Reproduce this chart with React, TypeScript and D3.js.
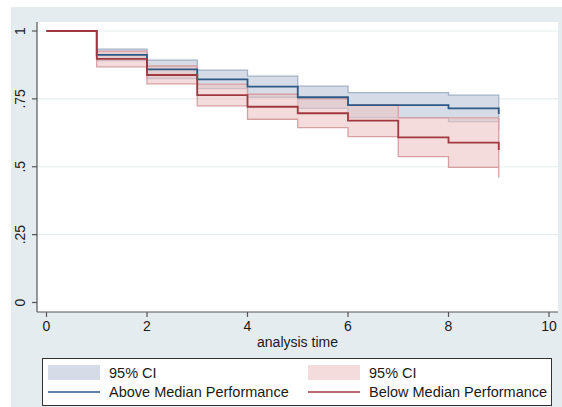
import React from "react";
import * as d3 from "d3";

const W = 562;
const H = 407;

const times = [0, 1, 2, 3, 4, 5, 6, 7, 8, 9];
const aboveSurv = [1, 0.912, 0.859, 0.822, 0.795, 0.756, 0.727, 0.727, 0.715, 0.694];
const aboveLo = [null, 0.891, 0.825, 0.788, 0.756, 0.715, 0.681, 0.681, 0.666, 0.633];
const aboveHi = [null, 0.933, 0.893, 0.856, 0.834, 0.797, 0.773, 0.773, 0.764, 0.75];
const belowSurv = [1, 0.897, 0.838, 0.764, 0.721, 0.697, 0.67, 0.608, 0.589, 0.562];
const belowLo = [null, 0.868, 0.805, 0.724, 0.675, 0.644, 0.611, 0.537, 0.498, 0.46];
const belowHi = [null, 0.926, 0.871, 0.804, 0.767, 0.75, 0.729, 0.68, 0.68, 0.66];

const xTicks = [0, 2, 4, 6, 8, 10];
const yTicks = [0, 0.25, 0.5, 0.75, 1];
const yTickLabels = ["0", ".25", ".5", ".75", "1"];
const gridValues = [0.25, 0.5, 0.75, 1];
const legendItems = [
  { label: "95% CI", kind: "band", series: "above" },
  { label: "95% CI", kind: "band", series: "below" },
  { label: "Above Median Performance", kind: "line", series: "above" },
  { label: "Below Median Performance", kind: "line", series: "below" },
];

const FONT = "'Liberation Sans', Arial, Helvetica, sans-serif";

export default function App() {
  const plot = { left: 37, right: 558, top: 22, bottom: 312 };
  const x = d3.scaleLinear().domain([0, 10]).range([46.5, 549]);
  const y = d3.scaleLinear().domain([0, 1]).range([302.5, 31]);

  const mkLine = (vals: number[]) =>
    d3
      .line<number>()
      .x((_, i) => x(times[i]))
      .y((d) => y(d))
      .curve(d3.curveStepAfter)(vals) as string;

  const mkBand = (lo: (number | null)[], hi: (number | null)[]) => {
    const idx = times.map((_, i) => i).filter((i) => lo[i] != null);
    return d3
      .area<number>()
      .x((i) => x(times[i]))
      .y0((i) => y(lo[i] as number))
      .y1((i) => y(hi[i] as number))
      .curve(d3.curveStepAfter)(idx) as string;
  };

  const colors = {
    above: { line: "#2c5986", band: "#d5dce7", bandStroke: "#a4b3c7", bandOpacity: 1 },
    below: { line: "#a0383f", band: "rgb(237,197,197)", bandStroke: "#d6a0a3", bandOpacity: 0.6 },
  };

  const legend = { left: 42.5, right: 551.5, top: 358.5, bottom: 405.5 };
  const col = [48, 308];
  const rowY = [372.5, 392];

  return (
    <svg
      width={W}
      height={H}
      style={{ position: "absolute", left: 0, top: 0, background: "#fff" }}
      fontFamily={FONT}
    >
      <rect x={11} y={7} width={W - 11} height={H - 7} fill="#e5ecf0" />
      <rect
        x={plot.left}
        y={plot.top}
        width={plot.right - plot.left}
        height={plot.bottom - plot.top}
        fill="#ffffff"
      />
      {gridValues.map((v) => (
        <line
          key={v}
          x1={plot.left}
          x2={plot.right}
          y1={y(v)}
          y2={y(v)}
          stroke="#e6edf0"
          strokeWidth={1.2}
        />
      ))}

      <path
        d={mkBand(aboveLo, aboveHi)}
        fill={colors.above.band}
        stroke={colors.above.bandStroke}
        strokeWidth={1.3}
      />
      <path
        d={mkBand(belowLo, belowHi)}
        fill={colors.below.band}
        fillOpacity={colors.below.bandOpacity}
        stroke={colors.below.bandStroke}
        strokeWidth={1.3}
      />
      <path d={mkLine(aboveSurv)} fill="none" stroke={colors.above.line} strokeWidth={1.8} />
      <path d={mkLine(belowSurv)} fill="none" stroke={colors.below.line} strokeWidth={1.8} />

      <line x1={plot.left} x2={plot.left} y1={plot.top} y2={plot.bottom} stroke="#555" strokeWidth={1.2} />
      <line x1={plot.left} x2={plot.right} y1={plot.bottom} y2={plot.bottom} stroke="#555" strokeWidth={1.2} />

      {yTicks.map((v, i) => (
        <g key={v}>
          <line x1={32} x2={plot.left} y1={y(v)} y2={y(v)} stroke="#555" strokeWidth={1.2} />
          <text
            transform={`translate(25,${y(v)}) rotate(-90)`}
            textAnchor="middle"
            fontSize={14}
            fill="#1a1a1a"
          >
            {yTickLabels[i]}
          </text>
        </g>
      ))}
      {xTicks.map((t) => (
        <g key={t}>
          <line x1={x(t)} x2={x(t)} y1={plot.bottom} y2={plot.bottom + 5} stroke="#555" strokeWidth={1.2} />
          <text x={x(t)} y={331} textAnchor="middle" fontSize={14} fill="#1a1a1a">
            {t}
          </text>
        </g>
      ))}
      <text x={(plot.left + plot.right) / 2} y={347} textAnchor="middle" fontSize={14} fill="#1a1a1a">
        analysis time
      </text>

      <rect
        x={legend.left}
        y={legend.top}
        width={legend.right - legend.left}
        height={legend.bottom - legend.top}
        fill="#ffffff"
        stroke="#333"
        strokeWidth={1}
      />
      {legendItems.map((it, i) => {
        const c = i % 2;
        const r = Math.floor(i / 2);
        const cx = col[c];
        const cy = rowY[r];
        const cl = colors[it.series as "above" | "below"];
        return (
          <g key={i}>
            {it.kind === "band" ? (
              <rect
                x={cx}
                y={cy - 7.5}
                width={52}
                height={15}
                fill={cl.band}
                fillOpacity={cl.bandOpacity}
              />
            ) : (
              <line x1={cx} x2={cx + 52} y1={cy} y2={cy} stroke={cl.line} strokeWidth={1.5} />
            )}
            <text x={cx + 61} y={cy + 5} fontSize={14.5} fill="#1a1a1a">
              {it.label}
            </text>
          </g>
        );
      })}
    </svg>
  );
}
